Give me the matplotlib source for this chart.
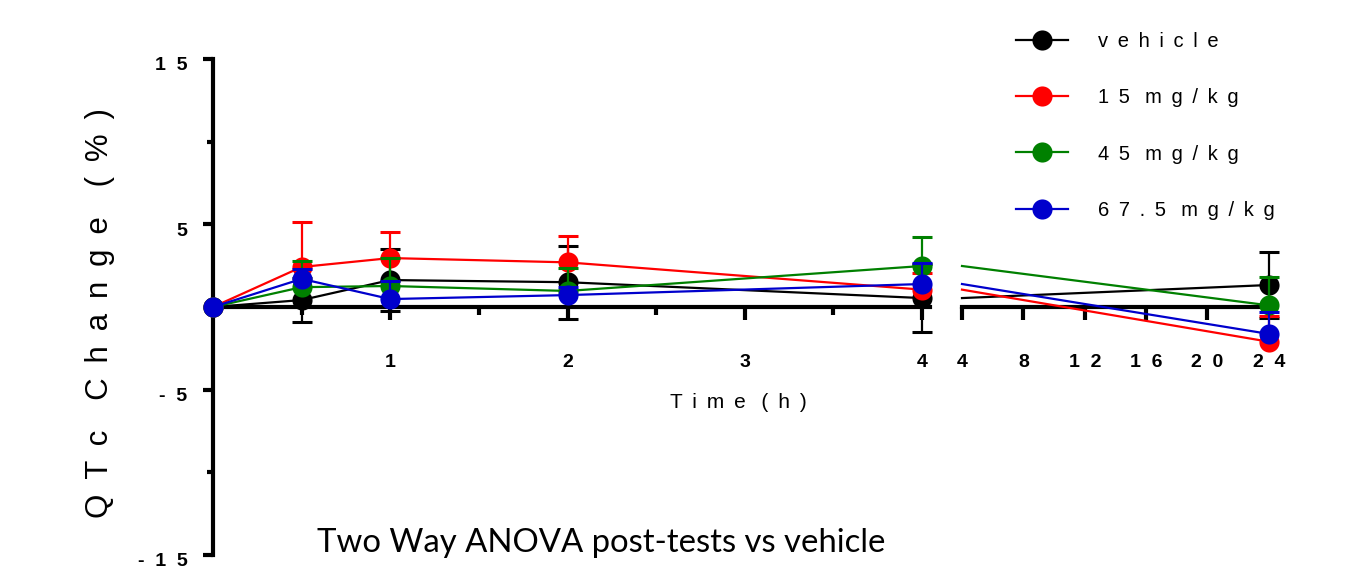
import matplotlib
matplotlib.use('Agg')
import matplotlib.pyplot as plt
from matplotlib.lines import Line2D
from matplotlib.transforms import ScaledTranslation
import numpy as np

plt.rcParams['font.family'] = ['Liberation Sans', 'DejaVu Sans']
plt.rcParams['xtick.labelsize'] = 14
plt.rcParams['ytick.labelsize'] = 14

# QTc change (%) by time point, mean and SEM
times = [0, 0.5, 1, 2, 4, 24]
vehicle = [0, 0.42, 1.63, 1.50, 0.54, 1.33]
vehicle_err = [0, 1.33, 1.90, 2.20, 2.05, 2.00]
dose15 = [0, 2.42, 2.96, 2.70, 1.05, -2.10]
dose15_err = [0, 2.70, 1.57, 1.60, 1.00, 1.57]
dose45 = [0, 1.20, 1.27, 0.97, 2.48, 0.10]
dose45_err = [0, 1.57, 1.70, 1.40, 1.77, 1.70]
dose675 = [0, 1.70, 0.48, 0.72, 1.39, -1.63]
dose675_err = [0, 0.60, 1.10, 0.50, 1.27, 1.30]

labels = ['vehicle', '15 mg/kg', '45 mg/kg', '67.5 mg/kg']
colors = ['#000000', '#FF0000', '#008000', '#0000CC']
series = [vehicle, dose15, dose45, dose675]
errors = [vehicle_err, dose15_err, dose45_err, dose675_err]
both_sides = [True, False, False, False]

left_ticks = [1, 2, 3, 4]
right_ticks = [4, 8, 12, 16, 20, 24]
y_major = [-15, -5, 5, 15]
y_minor = [-10, 10]


def spread(s, gap=' \u2009', word=' \u2009 '):
    # prism-style wide letter spacing
    return word.join(gap.join(w) for w in s.split(' '))


def tick_text(v):
    return '  '.join(str(v))


W, H = 1356, 572
fig = plt.figure(figsize=(W / 100, H / 100), dpi=100)
axL = fig.add_axes([213 / W, 17 / H, 717 / W, 496 / H])
axR = fig.add_axes([962 / W, 17 / H, 313 / W, 496 / H])

t = np.array(times)
for k, (vals, err, col, both) in enumerate(zip(series, errors, colors, both_sides)):
    v = np.array(vals)
    e = np.array(err)
    z = 3 + k
    for ax, sel in ((axL, t <= 4), (axR, t >= 4)):
        tt, vv, ee = t[sel], v[sel], e[sel]
        bar = ee > 0
        if ax is axR:
            bar = tt > 4
        lo = vv - ee if both else vv
        ax.vlines(tt[bar], lo[bar], (vv + ee)[bar], color=col, lw=1.6,
                  zorder=z, clip_on=False)
        ax.plot(tt[bar], (vv + ee)[bar], ls='none', marker='_', ms=14,
                mew=2.2, color=col, zorder=z, clip_on=False)
        if both:
            ax.plot(tt[bar], (vv - ee)[bar], ls='none', marker='_', ms=14,
                    mew=2.2, color=col, zorder=z, clip_on=False)
        if ax is axL:
            ax.plot(tt, vv, color=col, lw=1.6, marker='o', ms=14.5,
                    mew=0, zorder=z, clip_on=False)
        else:
            ax.plot(tt, vv, color=col, lw=1.6, zorder=z, clip_on=False)
            ax.plot(tt[1:], vv[1:], ls='none', marker='o', ms=14.5, mew=0,
                    color=col, zorder=z, clip_on=False)

for ax in (axL, axR):
    ax.set_ylim(-15, 15)
    ax.spines['top'].set_visible(False)
    ax.spines['right'].set_visible(False)
    ax.spines['bottom'].set_position(('data', 0))
    ax.spines['bottom'].set_linewidth(3)
    ax.patch.set_visible(False)
    ax.tick_params(axis='x', which='major', length=9.5, width=3, pad=24)
    ax.tick_params(axis='x', which='minor', length=5.5, width=3)

axL.set_xlim(0, 4.045)
axL.spines['left'].set_linewidth(3)
axL.set_xticks(left_ticks, [tick_text(v) for v in left_ticks])
axL.set_xticks([0.5, 1.5, 2.5, 3.5], minor=True)
axL.set_yticks(y_major, [tick_text(v) for v in y_major])
axL.set_yticks(y_minor, minor=True)
axL.tick_params(axis='y', which='major', length=7.5, width=3, pad=11)
axL.tick_params(axis='y', which='minor', length=4, width=3)

axR.set_xlim(4, 24.4)
axR.spines['left'].set_visible(False)
axR.set_yticks([])
axR.set_xticks(right_ticks, [tick_text(v) for v in right_ticks])

for lab in axL.get_xticklabels() + axR.get_xticklabels():
    lab.set_fontweight('bold')
# y labels sit a little under their ticks
shift = ScaledTranslation(0, -0.05, fig.dpi_scale_trans)
for lab in axL.get_yticklabels():
    lab.set_fontweight('bold')
    lab.set_transform(lab.get_transform() + shift)

fig.text(100 / W, 1 - 313 / H, spread('QTc Change (%)', word=' \u2009 \u2009'),
         rotation=90, fontsize=22.5, ha='center', va='center')
fig.text(738 / W, 1 - 402 / H, spread('Time (h)'), fontsize=15,
         ha='center', va='center')
fig.text(601 / W, 1 - 543 / H, 'Two Way ANOVA post-tests vs vehicle',
         family='Lato', fontsize=23.7, ha='center', va='center')

handles = [Line2D([], [], color=c, lw=1.6, marker='o', ms=14.5, mew=0)
           for c in colors]
fig.legend(handles, [spread(s) for s in labels], loc='upper left',
           bbox_to_anchor=(1016 / W, 1 - 32 / H), frameon=False,
           fontsize=14.5, handlelength=2.6, handletextpad=1.45,
           labelspacing=1.85, borderpad=0, borderaxespad=0)

fig.savefig('out.png', dpi=100)
